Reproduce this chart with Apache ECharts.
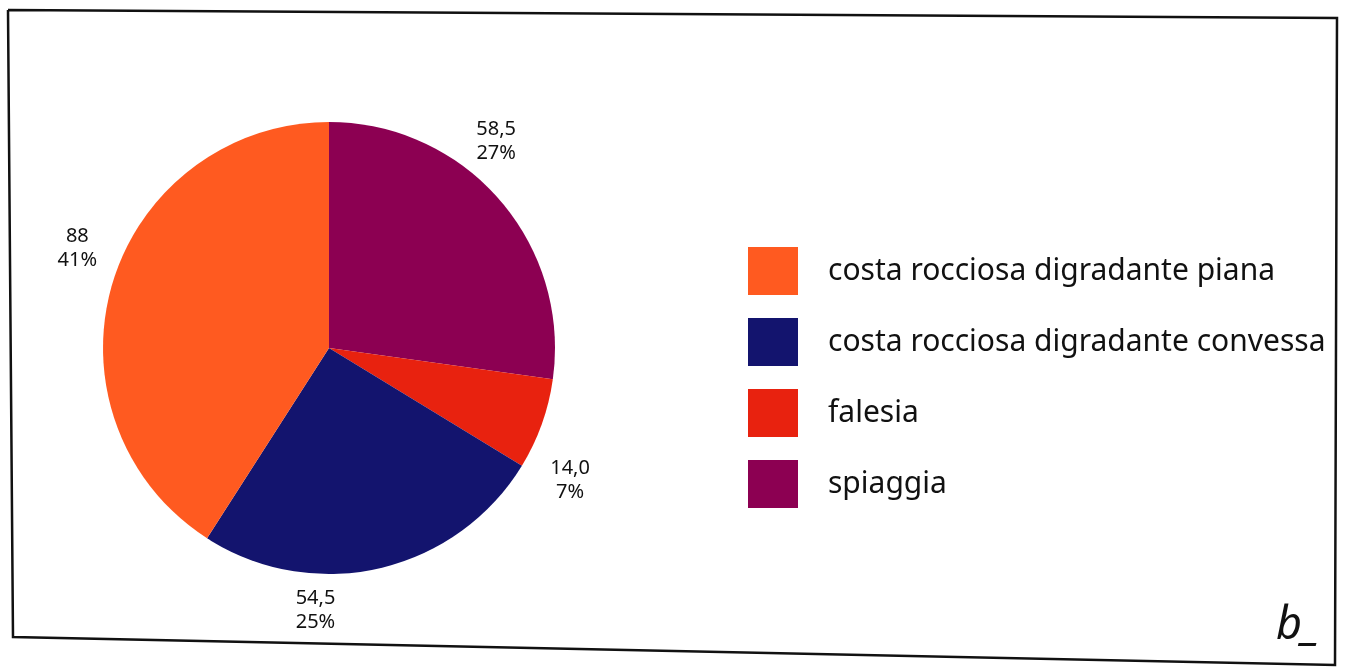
<!DOCTYPE html>
<html>
<head>
<meta charset="utf-8">
<script src="https://cdn.jsdelivr.net/npm/echarts@6/dist/echarts.min.js"></script>
<style>
  html, body { margin: 0; padding: 0; background: #fff; }
  #chart { width: 1346px; height: 670px; }
</style>
</head>
<body>
<div id="chart"></div>
<script>
// Coastline types (clockwise from 12 o'clock) and their lengths as printed
const categories = ['spiaggia', 'falesia', 'costa rocciosa digradante convessa', 'costa rocciosa digradante piana'];
const values = ['58.5', '14.0', '54.5', '88'];
const legendOrder = ['costa rocciosa digradante piana', 'costa rocciosa digradante convessa', 'falesia', 'spiaggia'];
const colors = ['#8c0052', '#e8220f', '#13146e', '#ff5a20'];

const FONT = '"Noto Sans", "Open Sans", sans-serif';

const chart = echarts.init(document.getElementById('chart'));

const data = categories.map((name, i) => ({
  name: name,
  value: parseFloat(values[i]),
  printed: values[i].replace('.', ','),
  itemStyle: { color: colors[i] }
}));

// shifts of the outside labels, by slice
const nudges = [[-56, -39], [-30, 46], [-101, 13], [24, -28]];

chart.setOption({
  animation: false,
  legend: {
    data: legendOrder,
    orient: 'vertical',
    left: 743,
    top: 242,
    icon: 'rect',
    itemWidth: 50,
    itemHeight: 48,
    itemGap: 23,
    selectedMode: false,
    textStyle: {
      fontFamily: FONT,
      fontSize: 30,
      color: '#111',
      padding: [0, 0, 0, 25]
    }
  },
  graphic: [
    {
      type: 'polyline',
      shape: { points: [[8, 10], [1337, 18], [1335, 665], [13, 637], [8, 10]] },
      style: { stroke: '#111', lineWidth: 2.5, fill: null },
      silent: true
    },
    {
      type: 'text',
      left: 1276,
      top: 604,
      style: {
        text: 'b_',
        font: 'italic 45px "Noto Sans", sans-serif',
        fill: '#111'
      }
    }
  ],
  series: [{
    type: 'pie',
    center: [329, 348],
    radius: 226,
    startAngle: 90,
    clockwise: true,
    percentPrecision: 0,
    data: data,
    itemStyle: { borderWidth: 0 },
    emphasis: { disabled: true },
    label: {
      show: true,
      position: 'outside',
      formatter: p => '{t|' + p.data.printed + '}\n{t|' + p.percent + '%}',
      rich: {
        t: {
          fontFamily: FONT,
          fontSize: 20,
          lineHeight: 24,
          color: '#111',
          width: 50,
          align: 'center'
        }
      }
    },
    labelLine: { show: false, length: 30, length2: 0 },
    labelLayout: p => ({ dx: nudges[p.dataIndex][0], dy: nudges[p.dataIndex][1] })
  }]
});
</script>
</body>
</html>
